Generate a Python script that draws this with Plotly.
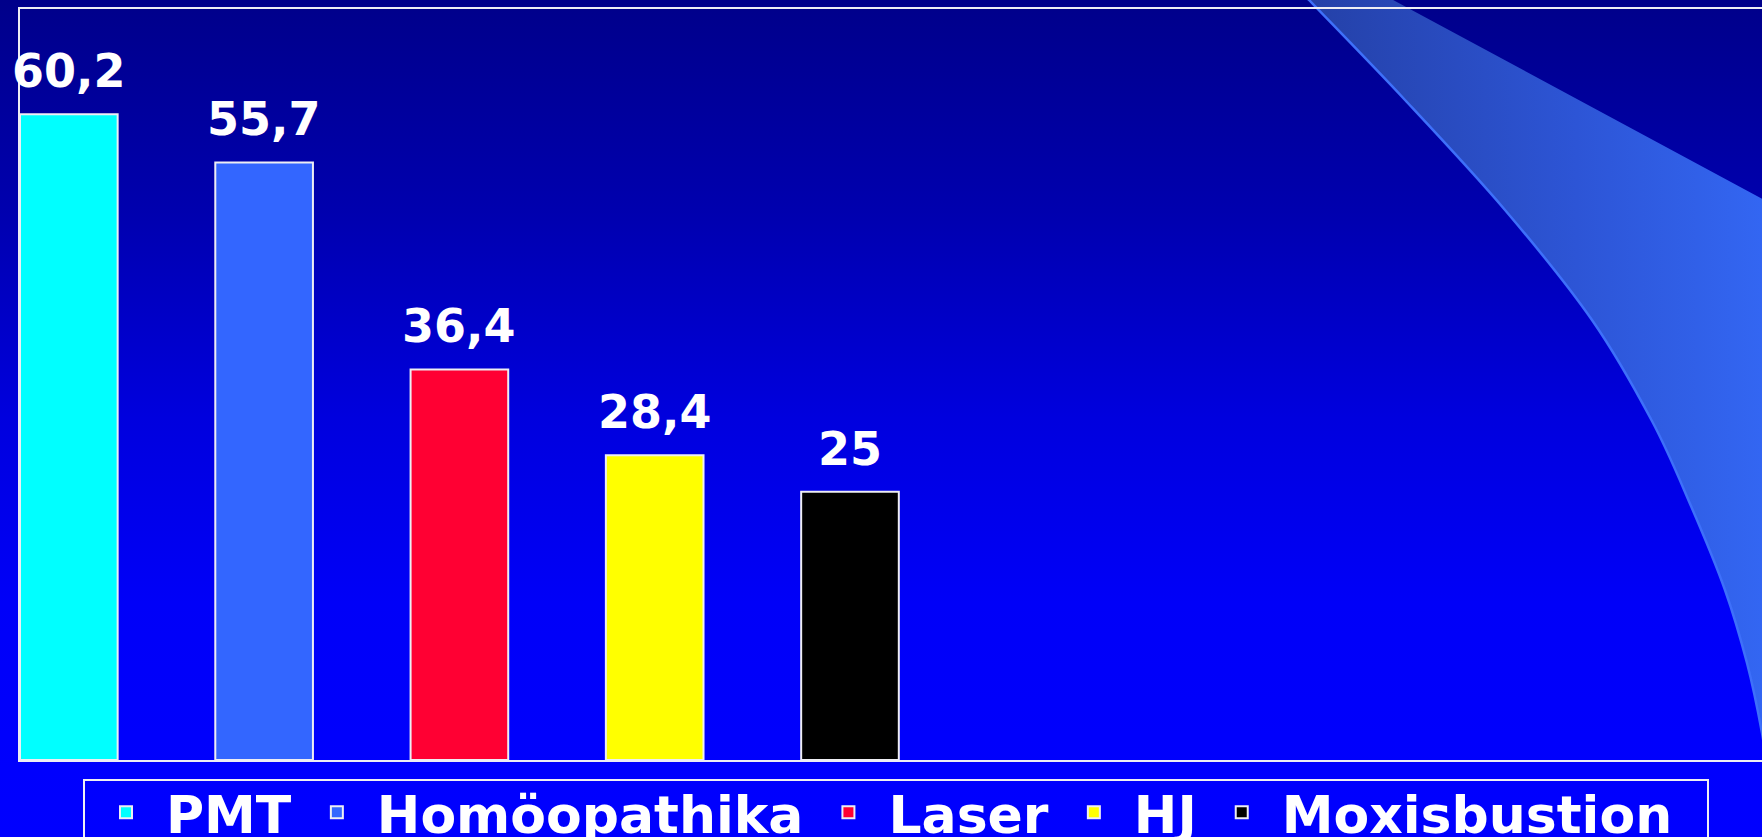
import base64
import plotly.graph_objects as go

# ---- data ----
categories = ["PMT", "Homöopathika", "Laser", "HJ", "Moxisbustion"]
values = [60.2, 55.7, 36.4, 28.4, 25]
bar_colors = ["#00FFFF", "#3366FF", "#FF0033", "#FFFF00", "#000000"]
value_labels = [f"{v:g}".replace(".", ",") for v in values]

# ---- page geometry ----
W, H = 1762, 837
ML, MR, MT, MB = 20, 0, 9, 77
PW, PH = W - ML - MR, H - MT - MB


def px_to_paper_x(px):
    return (px - ML) / PW


def px_to_paper_y(py):
    return (H - MB - py) / PH


def smooth_path(pts):
    """Catmull-Rom -> cubic bezier path string (decorative background)."""
    d = f"M{pts[0][0]},{pts[0][1]}"
    for i in range(len(pts) - 1):
        p0 = pts[i - 1] if i > 0 else pts[i]
        p1, p2 = pts[i], pts[i + 1]
        p3 = pts[i + 2] if i + 2 < len(pts) else pts[i + 1]
        c1 = (p1[0] + (p2[0] - p0[0]) / 6, p1[1] + (p2[1] - p0[1]) / 6)
        c2 = (p2[0] - (p3[0] - p1[0]) / 6, p2[1] - (p3[1] - p1[1]) / 6)
        d += f" C{c1[0]:.1f},{c1[1]:.1f} {c2[0]:.1f},{c2[1]:.1f} {p2[0]},{p2[1]}"
    return d


curve = [(1290, -20), (1309, 0), (1405, 100), (1505, 210), (1592, 320), (1652, 421),
         (1691, 506), (1725, 590), (1747, 663), (1762, 733), (1774, 810)]
curve_d = smooth_path(curve)
band_d = curve_d + " L1820,810 L1820,230 L1356,-20 Z"

svg = f"""<svg xmlns="http://www.w3.org/2000/svg" width="{W}" height="{H}" viewBox="0 0 {W} {H}" preserveAspectRatio="none">
<defs>
<linearGradient id="bg" x1="0" y1="0" x2="0" y2="{H}" gradientUnits="userSpaceOnUse">
<stop offset="0" stop-color="#00008A"/>
<stop offset="0.25" stop-color="#0000AE"/>
<stop offset="0.5" stop-color="#0000DE"/>
<stop offset="0.72" stop-color="#0000F8"/>
<stop offset="1" stop-color="#0000FF"/>
</linearGradient>
<linearGradient id="band" x1="1300" y1="0" x2="1762" y2="0" gradientUnits="userSpaceOnUse">
<stop offset="0" stop-color="#2440A6"/>
<stop offset="0.6" stop-color="#2D55D6"/>
<stop offset="1" stop-color="#3366F2"/>
</linearGradient>
</defs>
<rect x="0" y="0" width="{W}" height="{H}" fill="url(#bg)"/>
<path d="{band_d}" fill="url(#band)"/>
<path d="{curve_d}" fill="none" stroke="#3E70FA" stroke-width="2.5"/>
</svg>"""
svg_uri = "data:image/svg+xml;base64," + base64.b64encode(svg.encode("utf-8")).decode("ascii")

fig = go.Figure()
for cat, val, col in zip(categories, values, bar_colors):
    fig.add_trace(go.Bar(
        x=[cat], y=[val], name=cat, width=0.5,
        marker=dict(color=col, line=dict(color="#EEEEF4", width=2)),
        hoverinfo="x+y",
    ))

for cat, val, lab in zip(categories, values, value_labels):
    fig.add_annotation(
        x=cat, y=val, text=lab, showarrow=False,
        xanchor="center", yanchor="bottom", yshift=14,
        font=dict(family="DejaVu Sans", size=46, color="white", weight="bold"),
    )

# legend frame (drawn as a paper-referenced rectangle so text can sit higher inside it)
fig.add_shape(
    type="rect", xref="paper", yref="paper",
    x0=px_to_paper_x(84), x1=px_to_paper_x(1708),
    y0=px_to_paper_y(780), y1=px_to_paper_y(870),
    line=dict(color="#F0F0F4", width=2), fillcolor="rgba(0,0,0,0)", layer="above",
)

fig.update_layout(
    width=W, height=H,
    margin=dict(l=ML, r=MR, t=MT, b=MB, autoexpand=False),
    paper_bgcolor="#0000FF",
    plot_bgcolor="rgba(0,0,0,0)",
    barmode="overlay",
    showlegend=True,
    legend=dict(
        orientation="h",
        x=px_to_paper_x(86), xanchor="left",
        y=px_to_paper_y(772), yanchor="top",
        bgcolor="rgba(0,0,0,0)",
        borderwidth=0,
        font=dict(family="DejaVu Sans", size=52, color="white", weight="bold"),
        itemwidth=70,
        traceorder="normal",
    ),
    xaxis=dict(
        type="category", categoryorder="array", categoryarray=categories,
        range=[-0.25, 8.67],
        showline=True, linecolor="#EEEEF4", linewidth=2, mirror=True,
        showticklabels=False, ticks="", showgrid=False, zeroline=False,
    ),
    yaxis=dict(
        range=[0, 70],
        showline=True, linecolor="#EEEEF4", linewidth=2, mirror=False,
        showticklabels=False, ticks="", showgrid=False, zeroline=False,
    ),
    images=[dict(
        source=svg_uri, xref="paper", yref="paper",
        x=-ML / PW, y=1 + MT / PH, sizex=W / PW, sizey=H / PH,
        xanchor="left", yanchor="top", sizing="stretch", layer="below",
    )],
)

fig.write_html(
    "out.html",
    config={"displayModeBar": False},
    post_script="document.body.style.margin='0px';document.body.style.overflow='hidden';",
)
